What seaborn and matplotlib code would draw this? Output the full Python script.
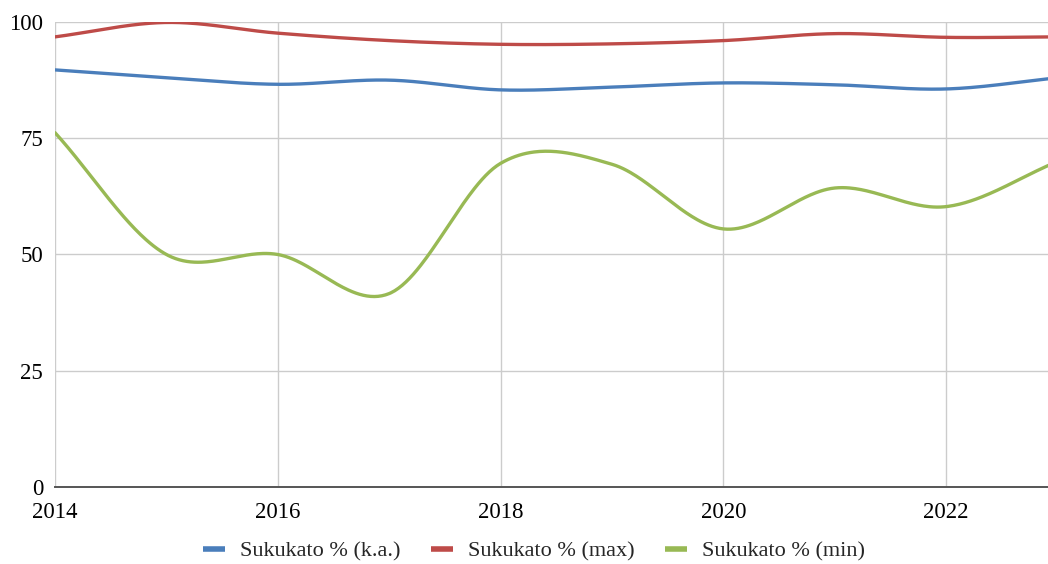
import numpy as np
import pandas as pd
import matplotlib
matplotlib.use("Agg")
import matplotlib.pyplot as plt
import seaborn as sns
from matplotlib.lines import Line2D

years = [2014, 2015, 2016, 2017, 2018, 2019, 2020, 2021, 2022, 2023]
ka_values = [89.7, 88.0, 86.6, 87.5, 85.4, 86.0, 86.9, 86.5, 85.6, 88.0]
max_values = [96.8, 99.9, 97.6, 96.0, 95.2, 95.3, 96.0, 97.5, 96.7, 96.8]
min_values = [76.2, 50.0, 50.0, 41.6, 69.6, 69.4, 55.5, 64.3, 60.3, 70.0]

series_names = ["Sukukato % (k.a.)", "Sukukato % (max)", "Sukukato % (min)"]
series_colors = ["#4a7ebb", "#be4b48", "#98b954"]
y_ticks = [0, 25, 50, 75, 100]
x_ticks = [2014, 2016, 2018, 2020, 2022]


def smooth(xs, ys, steps=60):
    """Catmull-Rom style cubic Hermite curve through the yearly points."""
    xs = np.asarray(xs, float)
    ys = np.asarray(ys, float)
    n = len(ys)
    m = np.empty(n)
    m[1:-1] = (ys[2:] - ys[:-2]) / (xs[2:] - xs[:-2])
    m[0] = (ys[1] - ys[0]) / (xs[1] - xs[0])
    m[-1] = (ys[-1] - ys[-2]) / (xs[-1] - xs[-2])
    out_x, out_y = [], []
    for i in range(n - 1):
        h = xs[i + 1] - xs[i]
        t = np.linspace(0, 1, steps, endpoint=(i == n - 2))
        h00 = 2 * t**3 - 3 * t**2 + 1
        h10 = t**3 - 2 * t**2 + t
        h01 = -2 * t**3 + 3 * t**2
        h11 = t**3 - t**2
        out_x.append(xs[i] + t * h)
        out_y.append(h00 * ys[i] + h10 * h * m[i] + h01 * ys[i + 1] + h11 * h * m[i + 1])
    return np.concatenate(out_x), np.concatenate(out_y)


frames = []
for name, vals in zip(series_names, [ka_values, max_values, min_values]):
    sx, sy = smooth(years, vals)
    frames.append(pd.DataFrame({"year": sx, "value": sy, "series": name}))
curves = pd.concat(frames, ignore_index=True)

sns.set_theme(style="white")
plt.rcParams["font.family"] = ["Liberation Serif", "DejaVu Serif"]

fig = plt.figure(figsize=(10.48, 5.64), dpi=100)
ax = fig.add_axes([55 / 1048, 1 - 487 / 564, 1 - 55 / 1048, (487 - 22) / 564])

sns.lineplot(data=curves, x="year", y="value", hue="series",
             palette=dict(zip(series_names, series_colors)),
             linewidth=2.4, legend=False, ax=ax, sort=False)

ax.set_xlim(2014, 2014 + (1048 - 55) / 111.4)
ax.set_ylim(0, 100)
ax.set_xticks(x_ticks)
ax.set_yticks(y_ticks)
ax.set_xticklabels([str(v) for v in x_ticks], fontsize=16.5)
ax.set_yticklabels([str(v) for v in y_ticks], fontsize=16.5)
ax.set_xlabel("")
ax.set_ylabel("")
ax.grid(True, color="#cccccc", linewidth=1.0)
ax.set_axisbelow(True)
ax.tick_params(axis="y", length=0, pad=8.5, colors="black")
ax.tick_params(axis="x", length=0, pad=10.5, colors="black")
for side in ["top", "right", "left"]:
    ax.spines[side].set_visible(False)
ax.spines["bottom"].set_color("#555555")
ax.spines["bottom"].set_linewidth(1.4)
ax.spines["bottom"].set_zorder(3)

handles = [Line2D([0], [0], color=c, linewidth=4.0, solid_capstyle="butt")
           for c in series_colors]
fig.legend(handles, series_names, loc="center", bbox_to_anchor=(534 / 1048, 1 - 551 / 564),
           ncol=3, frameon=False, fontsize=16, handlelength=1.0, handletextpad=0.68,
           columnspacing=1.35)

fig.savefig("out.png", dpi=100)
